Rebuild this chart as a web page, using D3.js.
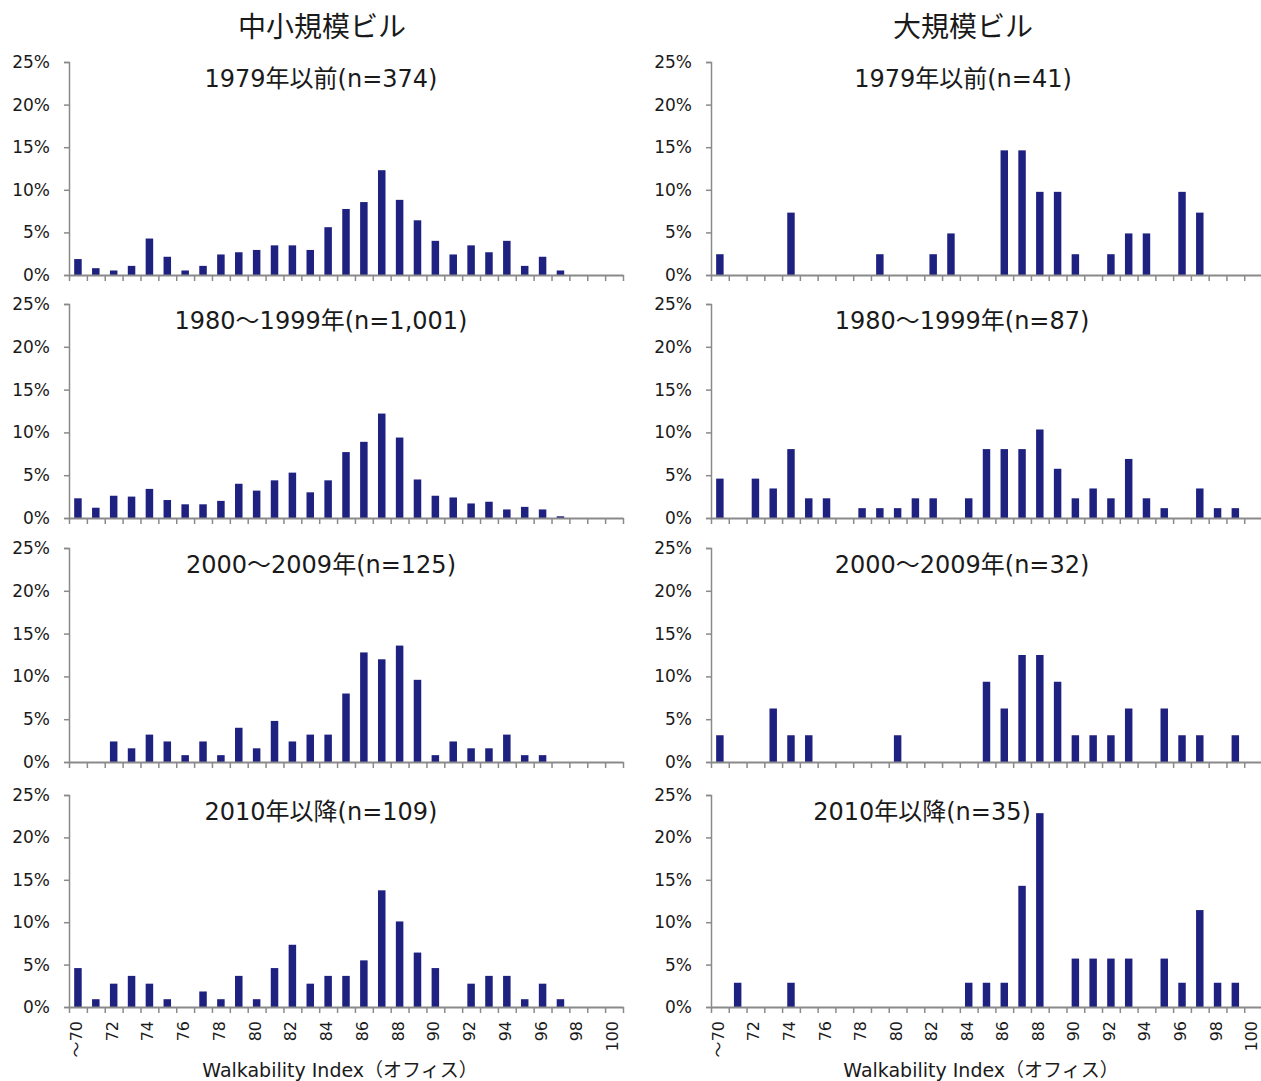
<!DOCTYPE html>
<html>
<head>
<meta charset="utf-8">
<script src="https://cdn.jsdelivr.net/npm/d3@7"></script>
<style>
  html, body { margin: 0; padding: 0; background: #ffffff; }
  svg { display: block; }
  text { font-family: "DejaVu Sans", "Noto Sans CJK JP", sans-serif; fill: #1a1a1a; }
  .cjk { font-family: "Noto Sans CJK JP", sans-serif; }
</style>
</head>
<body>
<svg id="chart" width="1261" height="1081"></svg>
<script>
// ---------- data ----------
const categories = ["～70","71","72","73","74","75","76","77","78","79",
  "80","81","82","83","84","85","86","87","88","89",
  "90","91","92","93","94","95","96","97","98","99","100"];
const tickLabels = ["～70","72","74","76","78","80","82","84","86","88","90","92","94","96","98","100"];
const yTicks = [0, 5, 10, 15, 20, 25];

const columnTitles = ["中小規模ビル", "大規模ビル"];
const xAxisTitle = "Walkability Index（オフィス）";

const smallSubtitles = ["1979年以前(n=374)", "1980～1999年(n=1,001)", "2000～2009年(n=125)", "2010年以降(n=109)"];
const largeSubtitles = ["1979年以前(n=41)", "1980～1999年(n=87)", "2000～2009年(n=32)", "2010年以降(n=35)"];

// percentages, categories ～70 .. 100
const small1979 = [1.87,0.80,0.53,1.07,4.28,2.14,0.53,1.07,2.41,2.67,
  2.94,3.48,3.48,2.94,5.61,7.75,8.56,12.30,8.82,6.42,
  4.01,2.41,3.48,2.67,4.01,1.07,2.14,0.53,0,0,0];
const small1980 = [2.3,1.2,2.6,2.5,3.4,2.1,1.6,1.6,2.0,4.0,
  3.2,4.4,5.3,3.0,4.4,7.7,8.9,12.2,9.4,4.5,
  2.6,2.4,1.7,1.9,1.0,1.3,1.0,0.2,0,0,0];
const small2000 = [0,0,2.4,1.6,3.2,2.4,0.8,2.4,0.8,4.0,
  1.6,4.8,2.4,3.2,3.2,8.0,12.8,12.0,13.6,9.6,
  0.8,2.4,1.6,1.6,3.2,0.8,0.8,0,0,0,0];
const small2010 = [4.59,0.92,2.75,3.67,2.75,0.92,0,1.83,0.92,3.67,
  0.92,4.59,7.34,2.75,3.67,3.67,5.50,13.76,10.09,6.42,
  4.59,0,2.75,3.67,3.67,0.92,2.75,0.92,0,0,0];

const large1979 = [2.44,0,0,0,7.32,0,0,0,0,2.44,
  0,0,2.44,4.88,0,0,14.63,14.63,9.76,9.76,
  2.44,0,2.44,4.88,4.88,0,9.76,7.32,0,0,0];
const large1980 = [4.60,0,4.60,3.45,8.05,2.30,2.30,0,1.15,1.15,
  1.15,2.30,2.30,0,2.30,8.05,8.05,8.05,10.34,5.75,
  2.30,3.45,2.30,6.90,2.30,1.15,0,3.45,1.15,1.15,0];
const large2000 = [3.125,0,0,6.25,3.125,3.125,0,0,0,0,
  3.125,0,0,0,0,9.375,6.25,12.5,12.5,9.375,
  3.125,3.125,3.125,6.25,0,6.25,3.125,3.125,0,3.125,0];
const large2010 = [0,2.86,0,0,2.86,0,0,0,0,0,
  0,0,0,0,2.86,2.86,2.86,14.29,22.86,0,
  5.71,5.71,5.71,5.71,0,5.71,2.86,11.43,2.86,2.86,0];

const smallSeries = [small1979, small1980, small2000, small2010];
const largeSeries = [large1979, large1980, large2000, large2010];

// ---------- layout ----------
const svg = d3.select("#chart");
const barColor = "#1f2180";
const axisColor = "#8a8a8a";

const columns = [
  { x0: 69, x1: 623, titleX: 322, subX: [321, 321, 321, 321], axisTitleX: 340, subtitles: smallSubtitles, series: smallSeries },
  { x0: 711, x1: 1262, titleX: 963, subX: [963, 962, 962, 922], axisTitleX: 981, subtitles: largeSubtitles, series: largeSeries }
];
const rowTop = [62, 304, 548, 795];
const rowBottom = [275, 518, 762, 1007];

columns.forEach((col, ci) => {
  svg.append("text")
    .attr("class", "cjk")
    .attr("x", col.titleX).attr("y", 25)
    .attr("text-anchor", "middle").attr("dominant-baseline", "central")
    .style("font-size", "28px")
    .text(columnTitles[ci]);

  const x = d3.scaleBand().domain(categories).range([col.x0, col.x1]).paddingInner(0.58).paddingOuter(0.29);
  const xEdge = d3.scaleLinear().domain([0, categories.length]).range([col.x0, col.x1]);

  col.series.forEach((vals, ri) => {
    const y = d3.scaleLinear().domain([0, 25]).range([rowBottom[ri], rowTop[ri]]);
    const g = svg.append("g");

    // bars
    g.selectAll("rect").data(vals.map((v, i) => ({ c: categories[i], v })).filter(d => d.v > 0))
      .enter().append("rect")
      .attr("x", d => x(d.c))
      .attr("width", x.bandwidth())
      .attr("y", d => y(d.v))
      .attr("height", d => y(0) - y(d.v))
      .attr("fill", barColor);

    // y axis
    const ya = g.append("g").attr("transform", `translate(${col.x0},0)`)
      .call(d3.axisLeft(y).tickValues(yTicks).tickFormat(d => d + "%").tickSize(5).tickPadding(14));
    ya.select(".domain").attr("stroke", axisColor).attr("stroke-width", 1.5);
    ya.selectAll(".tick line").attr("stroke", axisColor).attr("stroke-width", 1.5);
    ya.selectAll(".tick text").style("font-size", "17px").style("font-family", "\"DejaVu Sans\", sans-serif").attr("fill", "#1a1a1a");

    // x axis (ticks at category edges)
    const xa = g.append("g").attr("transform", `translate(0,${rowBottom[ri]})`)
      .call(d3.axisBottom(xEdge).tickValues(d3.range(categories.length + 1)).tickFormat("").tickSize(6).tickSizeOuter(0));
    xa.select(".domain").attr("stroke", axisColor).attr("stroke-width", 2);
    xa.selectAll(".tick line").attr("stroke", axisColor).attr("stroke-width", 1.5);

    // subtitle
    svg.append("text")
      .attr("x", col.subX[ri]).attr("y", rowTop[ri] + 17)
      .attr("text-anchor", "middle").attr("dominant-baseline", "central")
      .style("font-size", "24px")
      .text(col.subtitles[ri]);

    // tick labels on bottom row
    if (ri === rowTop.length - 1) {
      const lab = svg.append("g");
      lab.selectAll("text").data(tickLabels).enter().append("text")
        .attr("transform", d => `translate(${x(d) + x.bandwidth() / 2 - 1.5},${rowBottom[ri] + 14}) rotate(-90)`)
        .attr("text-anchor", "end").attr("dominant-baseline", "central")
        .style("font-size", "16px")
        .text(d => d);

      svg.append("text")
        .attr("x", col.axisTitleX).attr("y", 1070)
        .attr("text-anchor", "middle").attr("dominant-baseline", "central")
        .style("font-size", "19px")
        .text(xAxisTitle);
    }
  });
});
</script>
</body>
</html>
